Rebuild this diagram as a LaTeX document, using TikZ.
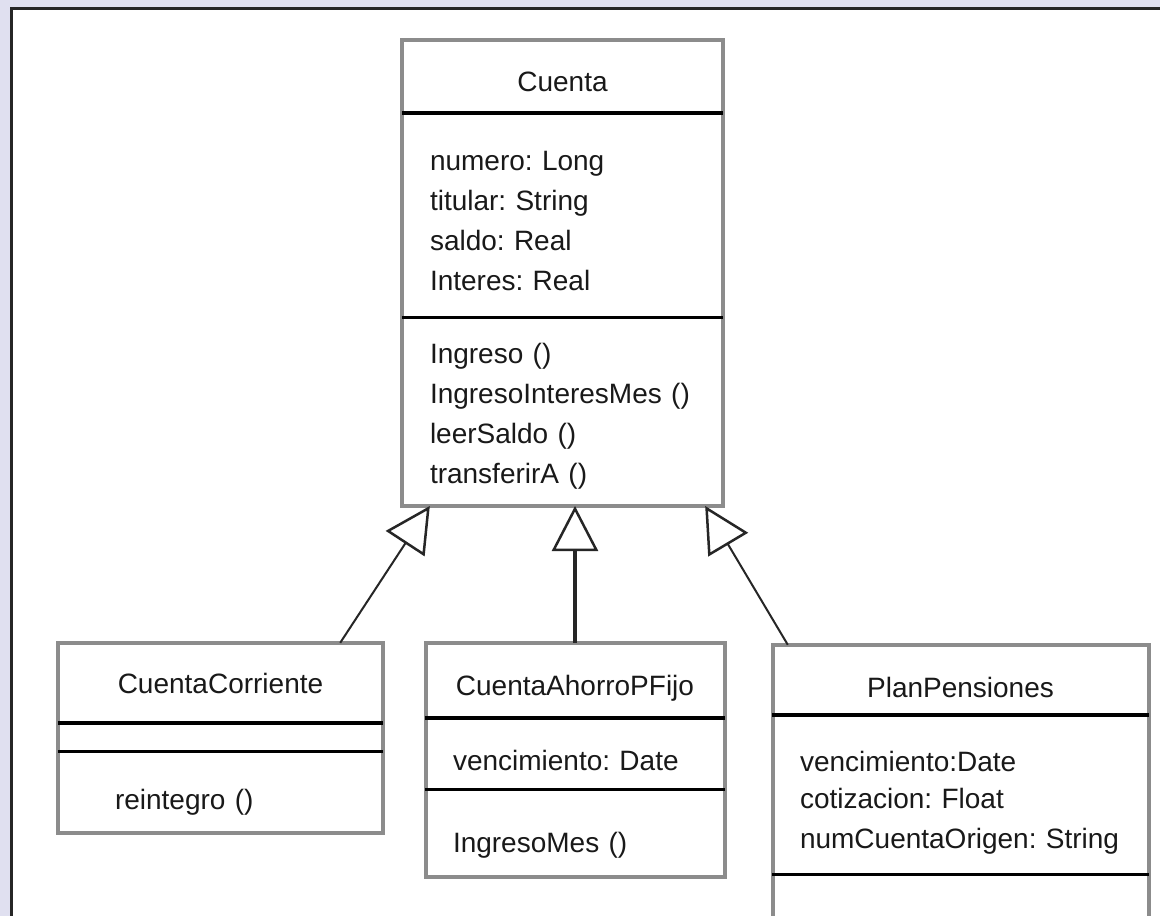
\documentclass[tikz,border=0pt]{standalone}
\usepackage{fontspec}
\setmainfont{Liberation Sans}
\usetikzlibrary{positioning,arrows.meta}

\definecolor{pagebg}{HTML}{E0E0F0}
\definecolor{boxgray}{HTML}{8C8C8C}

\tikzset{
  umltext/.style={font=\frenchspacing\fontsize{28}{40}\selectfont, text=black!90},
  cname/.style={umltext, inner sep=0pt, align=center},
  cpart/.style={umltext, inner ysep=0pt, inner xsep=28pt, align=left},
  boxline/.style={draw=boxgray, line width=4pt},
  divline/.style={draw=black, line width=3.5pt},
  inherit/.style={-{Triangle[open, length=45pt, width=46pt, line width=2.5pt]}, draw=black!85},
}

\begin{document}
\begin{tikzpicture}[x=1pt, y=-1pt]
  \useasboundingbox (0,0) rectangle (1160,916);
  \fill[pagebg] (0,0) rectangle (1160,916);
  \fill[white] (11,8) rectangle (1170,926);
  \draw[black!85, line width=3pt] (11,926) -- (11,8) -- (1170,8);

  % Cuenta
  \node[cname, text height=30pt, minimum width=321pt, minimum height=73pt] (cuentaName) at (562.5,76.5) {Cuenta};
  \node[cpart, text height=30pt, text width=265pt, minimum height=204pt, below=0pt of cuentaName] (cuentaAttr)
    {numero: Long\\titular: String\\saldo: Real\\Interes: Real};
  \node[cpart, text height=30pt, text width=265pt, minimum height=188pt, below=0pt of cuentaAttr] (cuentaOps)
    {Ingreso ()\\IngresoInteresMes ()\\leerSaldo ()\\transferirA ()};
  \draw[boxline] (cuentaName.north west) rectangle (cuentaOps.south east);
  \draw[divline] (cuentaAttr.north west) -- (cuentaAttr.north east);
  \draw[divline] (cuentaOps.north west) -- (cuentaOps.north east);

  % CuentaCorriente
  \node[cname, minimum width=325pt, minimum height=80pt] (ccName) at (220.5,683) {CuentaCorriente};
  \node[cpart, text width=269pt, minimum height=28pt, below=0pt of ccName] (ccAttr) {};
  \node[cpart, text height=40pt, inner xsep=57pt, text width=211pt, minimum height=81pt, below=0pt of ccAttr] (ccOps)
    {reintegro ()};
  \draw[boxline] (ccName.north west) rectangle (ccOps.south east);
  \draw[divline] (ccAttr.north west) -- (ccAttr.north east);
  \draw[divline] (ccOps.north west) -- (ccOps.north east);

  % CuentaAhorroPFijo
  \node[cname, text height=35pt, minimum width=298pt, minimum height=75pt] (caName) at (575,680.5) {CuentaAhorroPFijo};
  \node[cpart, text height=34pt, text width=244pt, minimum height=71pt, below=0pt of caName] (caAttr)
    {vencimiento: Date};
  \node[cpart, text height=44pt, text width=244pt, minimum height=87pt, below=0pt of caAttr] (caOps)
    {IngresoMes ()};
  \draw[boxline] (caName.north west) rectangle (caOps.south east);
  \draw[divline] (caAttr.north west) -- (caAttr.north east);
  \draw[divline] (caOps.north west) -- (caOps.north east);

  % PlanPensiones
  \node[cname, text height=36pt, minimum width=375pt, minimum height=70pt] (ppName) at (960.5,680) {PlanPensiones};
  \node[cpart, text height=36pt, text width=321pt, minimum height=159pt, below=0pt of ppName] (ppAttr)
    {\fontsize{28}{37}\selectfont vencimiento:Date\\cotizacion: Float\\numCuentaOrigen: String};
  \node[cpart, text width=321pt, minimum height=50pt, below=0pt of ppAttr] (ppOps) {};
  \draw[boxline] (ppName.north west) rectangle (ppOps.south east);
  \draw[divline] (ppAttr.north west) -- (ppAttr.north east);
  \draw[divline] (ppOps.north west) -- (ppOps.north east);

  % generalizaciones
  \draw[inherit, line width=2pt] ([xshift=-43pt]ccName.north east) -- ([xshift=28pt]cuentaOps.south west);
  \draw[inherit, line width=4pt] (caName.north) -- (caName.north |- cuentaOps.south);
  \draw[inherit, line width=2pt] ([xshift=15pt]ppName.north west) -- ([xshift=-18pt]cuentaOps.south east);
\end{tikzpicture}
\end{document}
